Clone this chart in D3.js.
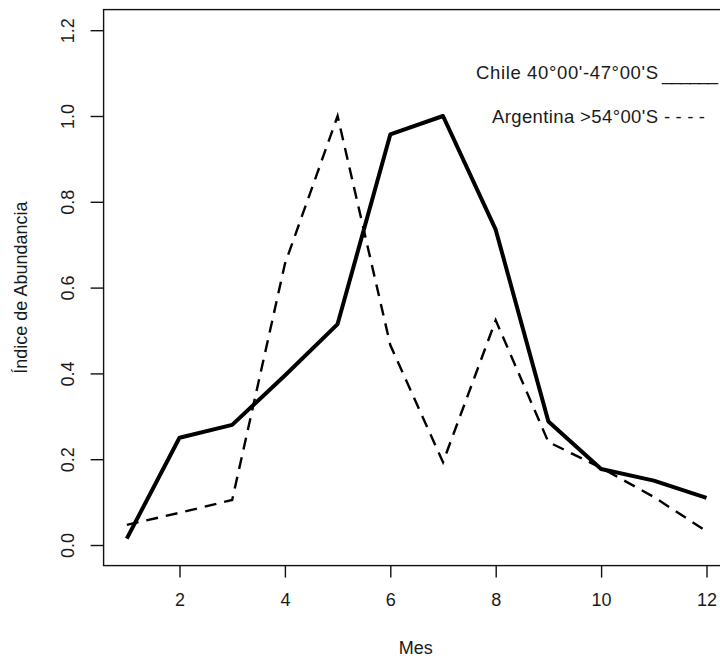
<!DOCTYPE html>
<html>
<head>
<meta charset="utf-8">
<script src="https://cdn.jsdelivr.net/npm/d3@7"></script>
<style>
html,body{margin:0;padding:0;background:#fff;}
svg text{font-family:"Liberation Sans",Arial,sans-serif;fill:#1a1a1a;}
</style>
</head>
<body>
<svg id="chart" width="720" height="658"></svg>
<script>
const months = [1,2,3,4,5,6,7,8,9,10,11,12];
const chile = [0.015,0.25,0.28,0.395,0.515,0.957,1.0,0.735,0.288,0.177,0.15,0.11];
const argentina = [0.047,0.075,0.105,0.655,1.0,0.466,0.193,0.524,0.24,0.18,0.112,0.032];
const xTicks = [2,4,6,8,10,12];
const yTicks = [0,0.2,0.4,0.6,0.8,1.0,1.2];
const legendLabels = ["Chile 40°00'-47°00'S", "Argentina >54°00'S"];
const legendSymbols = ["______", "----"];
const xTitle = "Mes";
const yTitle = "Índice de Abundancia";

const svg = d3.select("#chart");
const x = d3.scaleLinear().domain([0.56,12.44]).range([103.6,729.7]);
const y = d3.scaleLinear().domain([-0.048,1.248]).range([565.6,9.6]);

// box
svg.append("rect")
  .attr("x", x(0.56)).attr("y", y(1.248))
  .attr("width", x(12.44)-x(0.56)).attr("height", y(-0.048)-y(1.248))
  .attr("fill","none").attr("stroke","#111").attr("stroke-width",1.4);

// x axis
const xAxis = d3.axisBottom(x).tickValues(xTicks).tickSize(12).tickPadding(16).tickFormat(d3.format("d"));
const gx = svg.append("g").attr("transform",`translate(0,${y(-0.048)})`).call(xAxis);
gx.select(".domain").remove();
gx.selectAll("line").attr("stroke","#111").attr("stroke-width",1.4);
gx.selectAll("text").attr("font-size",18).attr("fill","#1a1a1a").attr("font-family","Liberation Sans, Arial, sans-serif");

// y axis
const yAxis = d3.axisLeft(y).tickValues(yTicks).tickSize(13).tickFormat(d3.format(".1f"));
const gy = svg.append("g").attr("transform",`translate(${x(0.56)},0)`).call(yAxis);
gy.select(".domain").remove();
gy.selectAll("line").attr("stroke","#111").attr("stroke-width",1.4);
gy.selectAll("text")
  .attr("font-size",18).attr("fill","#1a1a1a").attr("font-family","Liberation Sans, Arial, sans-serif")
  .attr("x",null).attr("dy",null)
  .attr("text-anchor","middle").attr("dominant-baseline","central")
  .attr("transform","translate(-36,0) rotate(-90)");

// titles
svg.append("text").attr("x",(x(0.56)+x(12.44))/2 - 1).attr("y",648)
  .attr("text-anchor","middle").attr("dominant-baseline","central").attr("font-size",18).text(xTitle);
svg.append("text").attr("transform",`translate(21,${(y(-0.048)+y(1.248))/2}) rotate(-90)`)
  .attr("text-anchor","middle").attr("dominant-baseline","central").attr("font-size",18).text(yTitle);

// lines
const line = d3.line().x((d,i)=>x(months[i])).y(d=>y(d));
svg.append("path").datum(argentina).attr("d",line)
  .attr("fill","none").attr("stroke","#000").attr("stroke-width",2.4)
  .attr("stroke-dasharray","12,8");
svg.append("path").datum(chile).attr("d",line)
  .attr("fill","none").attr("stroke","#000").attr("stroke-width",4)
  .attr("stroke-linejoin","round");

// legend (text)
svg.append("text").attr("x",476).attr("y",79).attr("font-size",18.5)
  .attr("textLength",182).text(legendLabels[0]);
svg.append("text").attr("x",662).attr("y",80).attr("font-size",18.5)
  .attr("textLength",56).text(legendSymbols[0]);
svg.append("text").attr("x",492).attr("y",123).attr("font-size",18.5)
  .attr("textLength",166).text(legendLabels[1]);
svg.append("text").attr("x",664).attr("y",123).attr("font-size",18.5)
  .attr("textLength",41).text(legendSymbols[1]);
</script>
</body>
</html>
